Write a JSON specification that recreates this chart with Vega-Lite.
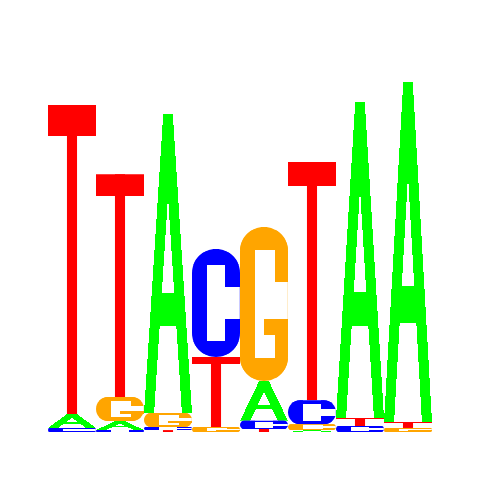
{
  "$schema": "https://vega.github.io/schema/vega-lite/v6.json",
  "width": 384,
  "height": 384,
  "padding": 48,
  "autosize": "none",
  "background": "white",
  "config": {"view": {"stroke": null}},
  "data": {
    "values": [
      {"pos": 1, "letter": "C", "bits": 0.021},
      {"pos": 1, "letter": "A", "bits": 0.073},
      {"pos": 1, "letter": "T", "bits": 1.609},
      {"pos": 2, "letter": "C", "bits": 0.01},
      {"pos": 2, "letter": "A", "bits": 0.047},
      {"pos": 2, "letter": "G", "bits": 0.125},
      {"pos": 2, "letter": "T", "bits": 1.161},
      {"pos": 3, "letter": "T", "bits": 0.01},
      {"pos": 3, "letter": "C", "bits": 0.016},
      {"pos": 3, "letter": "G", "bits": 0.073},
      {"pos": 3, "letter": "A", "bits": 1.557},
      {"pos": 4, "letter": "G", "bits": 0.026},
      {"pos": 4, "letter": "T", "bits": 0.365},
      {"pos": 4, "letter": "C", "bits": 0.5625},
      {"pos": 5, "letter": "T", "bits": 0.016},
      {"pos": 5, "letter": "C", "bits": 0.042},
      {"pos": 5, "letter": "A", "bits": 0.208},
      {"pos": 5, "letter": "G", "bits": 0.802},
      {"pos": 6, "letter": "A", "bits": 0.01},
      {"pos": 6, "letter": "G", "bits": 0.031},
      {"pos": 6, "letter": "C", "bits": 0.125},
      {"pos": 6, "letter": "T", "bits": 1.24},
      {"pos": 7, "letter": "C", "bits": 0.031},
      {"pos": 7, "letter": "T", "bits": 0.042},
      {"pos": 7, "letter": "A", "bits": 1.646},
      {"pos": 8, "letter": "G", "bits": 0.021},
      {"pos": 8, "letter": "T", "bits": 0.031},
      {"pos": 8, "letter": "A", "bits": 1.771}
    ]
  },
  "transform": [
    {"stack": "bits", "groupby": ["pos"], "sort": [{"field": "bits", "order": "ascending"}], "as": ["y0", "y1"]}
  ],
  "encoding": {
    "x": {"field": "pos", "type": "ordinal", "axis": null, "scale": {"paddingInner": 0, "paddingOuter": 0}},
    "y": {"field": "y1", "type": "quantitative", "axis": null, "scale": {"domain": [0, 2], "nice": false, "zero": true}},
    "y2": {"field": "y0"}
  },
  "layer": [
    {
      "transform": [{"filter": "datum.letter === 'T'"}],
      "mark": {"type": "bar", "fill": {"gradient": "linear", "x1": 0, "y1": 0, "x2": 0, "y2": 1, "stops": [
        {"offset": 0, "color": "#ff0000"}, {"offset": 0.1, "color": "#ff0000"},
        {"offset": 0.1, "color": "rgba(255,0,0,0)"}, {"offset": 1, "color": "rgba(255,0,0,0)"}]}}
    },
    {
      "transform": [{"filter": "datum.letter === 'T'"}],
      "mark": {"type": "bar", "fill": "#ff0000", "width": {"band": 0.21}}
    },
    {
      "transform": [{"filter": "datum.letter === 'A'"}],
      "mark": {"type": "bar", "fill": {"gradient": "linear", "x1": 0, "y1": 0, "x2": 1, "y2": 0.4, "stops": [
        {"offset": 0, "color": "rgba(0,255,0,0)"}, {"offset": 0.345, "color": "rgba(0,255,0,0)"},
        {"offset": 0.345, "color": "#00ff00"}, {"offset": 0.526, "color": "#00ff00"},
        {"offset": 0.526, "color": "rgba(0,255,0,0)"}, {"offset": 1, "color": "rgba(0,255,0,0)"}]}}
    },
    {
      "transform": [{"filter": "datum.letter === 'A'"}],
      "mark": {"type": "bar", "fill": {"gradient": "linear", "x1": 1, "y1": 0, "x2": 0, "y2": 0.4, "stops": [
        {"offset": 0, "color": "rgba(0,255,0,0)"}, {"offset": 0.345, "color": "rgba(0,255,0,0)"},
        {"offset": 0.345, "color": "#00ff00"}, {"offset": 0.526, "color": "#00ff00"},
        {"offset": 0.526, "color": "rgba(0,255,0,0)"}, {"offset": 1, "color": "rgba(0,255,0,0)"}]}}
    },
    {
      "transform": [{"filter": "datum.letter === 'A'"}],
      "mark": {"type": "bar", "width": {"band": 0.6}, "fill": {"gradient": "linear", "x1": 0, "y1": 0, "x2": 0, "y2": 1, "stops": [
        {"offset": 0, "color": "rgba(0,255,0,0)"}, {"offset": 0.6, "color": "rgba(0,255,0,0)"},
        {"offset": 0.6, "color": "#00ff00"}, {"offset": 0.71, "color": "#00ff00"},
        {"offset": 0.71, "color": "rgba(0,255,0,0)"}, {"offset": 1, "color": "rgba(0,255,0,0)"}]}}
    },
    {
      "transform": [{"filter": "datum.letter === 'C'"}],
      "mark": {"type": "bar", "cornerRadius": 24, "fill": {"gradient": "linear", "x1": 0, "y1": 0, "x2": 1, "y2": 0, "stops": [
        {"offset": 0, "color": "#0000ff"}, {"offset": 0.32, "color": "#0000ff"},
        {"offset": 0.32, "color": "rgba(0,0,255,0)"}, {"offset": 0.68, "color": "rgba(0,0,255,0)"},
        {"offset": 0.68, "color": "#0000ff"}, {"offset": 1, "color": "#0000ff"}]}}
    },
    {
      "transform": [{"filter": "datum.letter === 'C'"}],
      "mark": {"type": "bar", "cornerRadius": 24, "fill": {"gradient": "linear", "x1": 0, "y1": 0, "x2": 0, "y2": 1, "stops": [
        {"offset": 0, "color": "#0000ff"}, {"offset": 0.15, "color": "#0000ff"},
        {"offset": 0.15, "color": "rgba(0,0,255,0)"}, {"offset": 0.85, "color": "rgba(0,0,255,0)"},
        {"offset": 0.85, "color": "#0000ff"}, {"offset": 1, "color": "#0000ff"}]}}
    },
    {
      "transform": [{"filter": "datum.letter === 'C'"}],
      "mark": {"type": "bar", "width": {"band": 0.45}, "xOffset": 13, "fill": {"gradient": "linear", "x1": 0, "y1": 0, "x2": 0, "y2": 1, "stops": [
        {"offset": 0, "color": "rgba(255,255,255,0)"}, {"offset": 0.355, "color": "rgba(255,255,255,0)"},
        {"offset": 0.355, "color": "#ffffff"}, {"offset": 0.645, "color": "#ffffff"},
        {"offset": 0.645, "color": "rgba(255,255,255,0)"}, {"offset": 1, "color": "rgba(255,255,255,0)"}]}}
    },
    {
      "transform": [{"filter": "datum.letter === 'G'"}],
      "mark": {"type": "bar", "cornerRadius": 24, "fill": {"gradient": "linear", "x1": 0, "y1": 0, "x2": 1, "y2": 0, "stops": [
        {"offset": 0, "color": "#ffa500"}, {"offset": 0.31, "color": "#ffa500"},
        {"offset": 0.31, "color": "rgba(255,165,0,0)"}, {"offset": 0.72, "color": "rgba(255,165,0,0)"},
        {"offset": 0.72, "color": "#ffa500"}, {"offset": 1, "color": "#ffa500"}]}}
    },
    {
      "transform": [{"filter": "datum.letter === 'G'"}],
      "mark": {"type": "bar", "cornerRadius": 24, "fill": {"gradient": "linear", "x1": 0, "y1": 0, "x2": 0, "y2": 1, "stops": [
        {"offset": 0, "color": "#ffa500"}, {"offset": 0.15, "color": "#ffa500"},
        {"offset": 0.15, "color": "rgba(255,165,0,0)"}, {"offset": 0.85, "color": "rgba(255,165,0,0)"},
        {"offset": 0.85, "color": "#ffa500"}, {"offset": 1, "color": "#ffa500"}]}}
    },
    {
      "transform": [{"filter": "datum.letter === 'G'"}],
      "mark": {"type": "bar", "width": {"band": 0.45}, "xOffset": 13, "fill": {"gradient": "linear", "x1": 0, "y1": 0, "x2": 0, "y2": 1, "stops": [
        {"offset": 0, "color": "rgba(255,255,255,0)"}, {"offset": 0.355, "color": "rgba(255,255,255,0)"},
        {"offset": 0.355, "color": "#ffffff"}, {"offset": 0.6, "color": "#ffffff"},
        {"offset": 0.6, "color": "rgba(255,255,255,0)"}, {"offset": 1, "color": "rgba(255,255,255,0)"}]}}
    },
    {
      "transform": [{"filter": "datum.letter === 'G'"}],
      "mark": {"type": "bar", "width": {"band": 0.5}, "xOffset": 12, "fill": {"gradient": "linear", "x1": 0, "y1": 0, "x2": 0, "y2": 1, "stops": [
        {"offset": 0, "color": "rgba(255,165,0,0)"}, {"offset": 0.6, "color": "rgba(255,165,0,0)"},
        {"offset": 0.6, "color": "#ffa500"}, {"offset": 0.7, "color": "#ffa500"},
        {"offset": 0.7, "color": "rgba(255,165,0,0)"}, {"offset": 1, "color": "rgba(255,165,0,0)"}]}}
    }
  ]
}
